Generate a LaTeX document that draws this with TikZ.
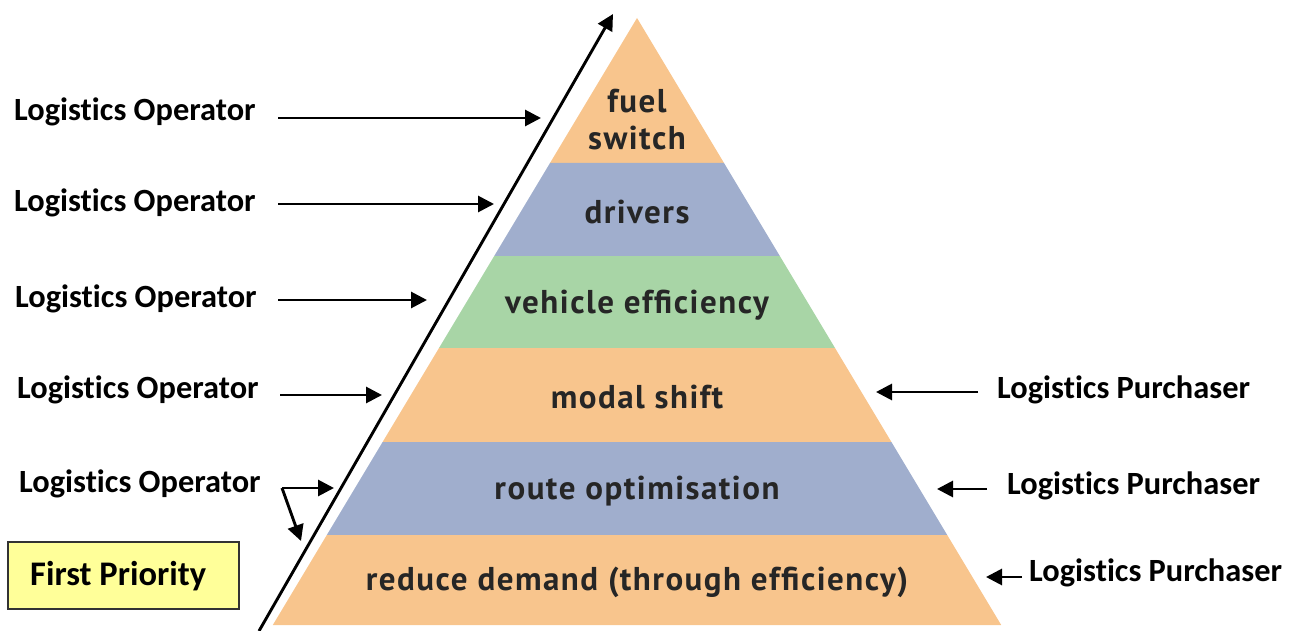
\documentclass[tikz,border=0pt]{standalone}
\usepackage{fontspec}
\setmainfont{Carlito}[Ligatures=NoCommon]
\newfontfamily\pyrfont{PT Sans}[LetterSpace=4.5]
\usetikzlibrary{arrows.meta}
\definecolor{orng}{HTML}{F8C58D}
\definecolor{blu}{HTML}{A0AECD}
\definecolor{grn}{HTML}{A8D5A6}
\definecolor{ptxt}{HTML}{262626}
\definecolor{yel}{HTML}{FFFF99}
\tikzset{
  lbl/.style={font=\bfseries\fontsize{32.4}{38}\selectfont, inner sep=0pt, text=black},
  ptext/.style={font=\pyrfont\bfseries\fontsize{33}{38}\selectfont, text=ptxt, inner sep=0pt},
  arr/.style={line width=2.9pt, -{Triangle[length=16pt,width=16pt]}},
}
\begin{document}
\begin{tikzpicture}[x=1pt,y=-1pt]
\useasboundingbox (0,0) rectangle (1290,631);
% pyramid bands
\fill[orng] (637,18) -- (724,163) -- (550,163) -- cycle;
\fill[blu] (550,163) -- (724,163) -- (779.8,256) -- (494.2,256) -- cycle;
\fill[grn] (494.2,256) -- (779.8,256) -- (835,348) -- (439,348) -- cycle;
\fill[orng] (439,348) -- (835,348) -- (891.4,442) -- (382.6,442) -- cycle;
\fill[blu] (382.6,442) -- (891.4,442) -- (947.2,535) -- (326.8,535) -- cycle;
\fill[orng] (326.8,535) -- (947.2,535) -- (1001.2,625) -- (272.8,625) -- cycle;
% pyramid labels
\node[ptext] (fuel) at (637,101) {fuel};
\node[ptext] (switch) at (637,138) {switch};
\node[ptext] (drivers) at (637,212) {drivers};
\node[ptext] (vehicle) at (637,305) {vehicle efficiency};
\node[ptext] (modal) at (637,397) {modal shift};
\node[ptext] (route) at (637,491) {route optimisation};
\node[ptext] (reduce) at (637,582) {reduce demand (through efficiency)};
% diagonal priority arrow
\coordinate (diagS) at (259,631);
\coordinate (diagE) at (613,14);
\draw[arr] (diagS) -- (diagE);
% left labels
\node[lbl, anchor=west] (op1) at (14,112) {Logistics Operator};
\node[lbl, anchor=west] (op2) at (14,203) {Logistics Operator};
\node[lbl, anchor=west] (op3) at (15,299) {Logistics Operator};
\node[lbl, anchor=west] (op4) at (17,390) {Logistics Operator};
\node[lbl, anchor=west] (op5) at (19,484) {Logistics Operator};
\coordinate (a1s) at (278,118); \coordinate (a1e) at (541,118);
\coordinate (a2s) at (278,204); \coordinate (a2e) at (494,204);
\coordinate (a3s) at (278,300); \coordinate (a3e) at (427,300);
\coordinate (a4s) at (280,395); \coordinate (a4e) at (382,395);
\coordinate (a5s) at (282,488); \coordinate (a5e) at (334,488); \coordinate (a5f) at (301,541);
\draw[arr] (a1s) -- (a1e);
\draw[arr] (a2s) -- (a2e);
\draw[arr] (a3s) -- (a3e);
\draw[arr] (a4s) -- (a4e);
\draw[arr] (a5s) -- (a5e);
\draw[arr] (a5s) -- (a5f);
% right labels
\node[lbl, anchor=west] (pu1) at (997,390) {Logistics Purchaser};
\node[lbl, anchor=west] (pu2) at (1007,486) {Logistics Purchaser};
\node[lbl, anchor=west] (pu3) at (1029,573) {Logistics Purchaser};
\coordinate (b1s) at (978,392); \coordinate (b1e) at (876,392);
\coordinate (b2s) at (987,489); \coordinate (b2e) at (937,489);
\coordinate (b3s) at (1022,577); \coordinate (b3e) at (986,577);
\draw[arr] (b1s) -- (b1e);
\draw[arr] (b2s) -- (b2e);
\draw[arr] (b3s) -- (b3e);
% first priority box
\draw[fill=yel, draw=black!80, line width=1.2pt] (8,542) rectangle (239,609);
\node[lbl, anchor=west, font=\bfseries\fontsize{34.5}{40}\selectfont] (fp) at (30,576) {First Priority};
\end{tikzpicture}
\end{document}
